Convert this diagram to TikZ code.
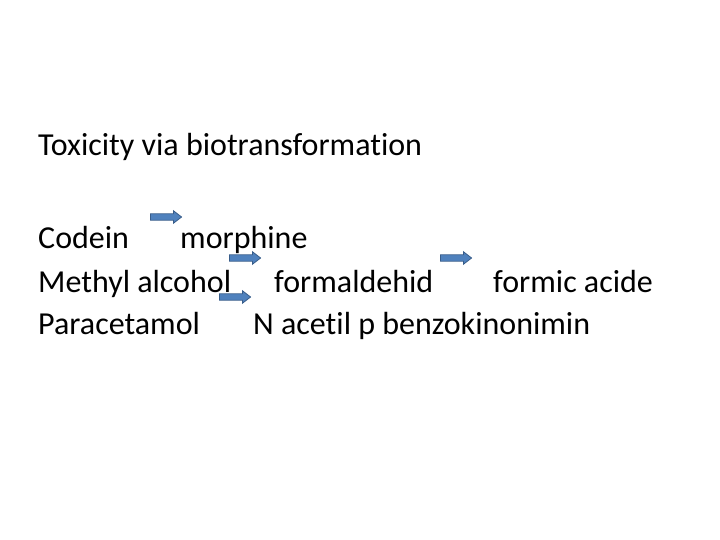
\documentclass[tikz,border=0pt]{standalone}
\usepackage{fontspec}
\setmainfont[Ligatures=NoCommon]{Carlito}
\usepackage{tikz}
\usetikzlibrary{shapes,shapes.arrows}
\definecolor{arrowfill}{RGB}{79,129,189}
\definecolor{arrowline}{RGB}{56,93,138}

\begin{document}
\begin{tikzpicture}[x=1pt,y=-1pt]
    \tikzstyle{every node}=[anchor=base west,inner sep=0pt,font=\fontsize{32}{38}\selectfont]
    \tikzstyle{blockarrow}=[single arrow,draw=arrowline,fill=arrowfill,line width=0.8pt,
      anchor=center,inner sep=2.8pt,minimum height=31pt,
      single arrow head extend=3pt,single arrow tip angle=75]
    \useasboundingbox (0,0) rectangle (720,540);
    \node (title) at (38,156) {Toxicity via biotransformation};
    \node (codein) at (38,248) {Codein};
    \node (morphine) at (180,248) {morphine};
    \node (methyl) at (38,292) {Methyl alcohol};
    \node (formald) at (274,292) {formaldehid};
    \node (formic) at (493,292) {formic acide};
    \node (paracet) at (38,334) {Paracetamol};
    \node (napqi) at (253,334) {N acetil p benzokinonimin};
    \node[blockarrow] (arrA) at (164,217) {};
    \node[blockarrow] (arrB) at (243,258) {};
    \node[blockarrow] (arrC) at (454,258) {};
    \node[blockarrow] (arrD) at (233,297) {};
  \end{tikzpicture}
\end{document}
